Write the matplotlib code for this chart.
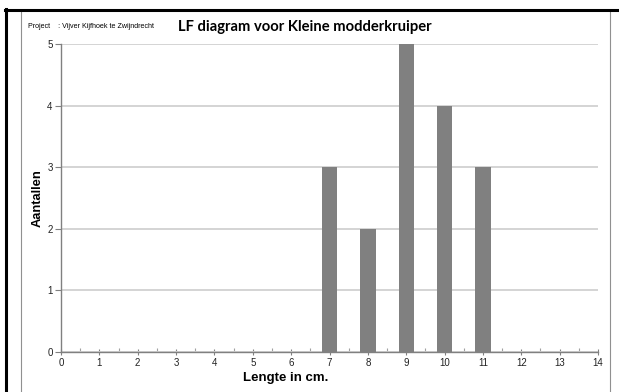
import matplotlib
matplotlib.use("Agg")
import matplotlib.pyplot as plt
from matplotlib.lines import Line2D
from matplotlib.ticker import MultipleLocator

# lengte-frequentie data
lengtes = [7, 8, 9, 10, 11]
aantallen = [3, 2, 5, 4, 3]
x_ticks = list(range(0, 15))
y_ticks = [0, 1, 2, 3, 4, 5]

title = "LF diagram voor Kleine modderkruiper"
project = "Project    : Vijver Kijfhoek te Zwijndrecht"

plt.rcParams["font.family"] = ["Liberation Sans", "DejaVu Sans"]

W, H = 619, 392
fig = plt.figure(figsize=(W / 100, H / 100), dpi=100)
x0, x1, y0, y1 = 61, 598, 352, 44
ax = fig.add_axes([x0 / W, 1 - y0 / H, (x1 - x0) / W, (y0 - y1) / H])

ax.bar(lengtes, aantallen, width=0.4, color="#808080", zorder=3)

ax.set_xlim(0, 14)
ax.set_ylim(0, 5)
ax.set_xticks(x_ticks)
ax.set_yticks(y_ticks)
ax.xaxis.set_minor_locator(MultipleLocator(0.5))
ax.tick_params(axis="x", which="major", direction="inout", length=5, width=0.8,
               color="#808080", labelsize=7, pad=2, labelcolor="#222222")
ax.tick_params(axis="x", which="minor", direction="in", length=3, width=0.8,
               color="#a0a0a0")
ax.tick_params(axis="y", which="major", direction="out", length=4, width=0.8,
               color="#808080", labelsize=7, pad=2, labelcolor="#222222")

ax.grid(axis="y", color="#d4d4d4", linewidth=1.4, zorder=0)
for s in ["top", "right"]:
    ax.spines[s].set_visible(False)
for s in ["left", "bottom"]:
    ax.spines[s].set_color("#808080")
    ax.spines[s].set_linewidth(1.0)

ax.set_xlabel("Lengte in cm.", fontsize=9.5, fontweight="bold", va="center")
ax.xaxis.set_label_coords((286 - x0) / (x1 - x0), (y0 - 378) / (y0 - y1))
ax.set_ylabel("Aantallen", fontsize=9.3, fontweight="bold", va="center")
ax.yaxis.set_label_coords((37.5 - x0) / (x1 - x0), (y0 - 198) / (y0 - y1))

fig.text(305 / W, 1 - 27 / H, title, ha="center", va="center",
         fontsize=10.6, fontweight="bold", family=["Lato", "DejaVu Sans"])
fig.text(28 / W, 1 - 27 / H, project, ha="left", va="center", fontsize=5.1)

# rand van het kader
def px_line(xa, ya, xb, yb, color, lw):
    fig.add_artist(Line2D([xa / W, xb / W], [1 - ya / H, 1 - yb / H],
                          transform=fig.transFigure, color=color, lw=lw))

px_line(20.5, 11, 20.5, H, "#909090", 0.8)
px_line(610, 11, 610, H, "#909090", 0.8)
px_line(5, 10, W, 10, "black", 2.2)
px_line(6, 9, 6, H, "black", 2.2)

fig.savefig("out.png", dpi=100)
